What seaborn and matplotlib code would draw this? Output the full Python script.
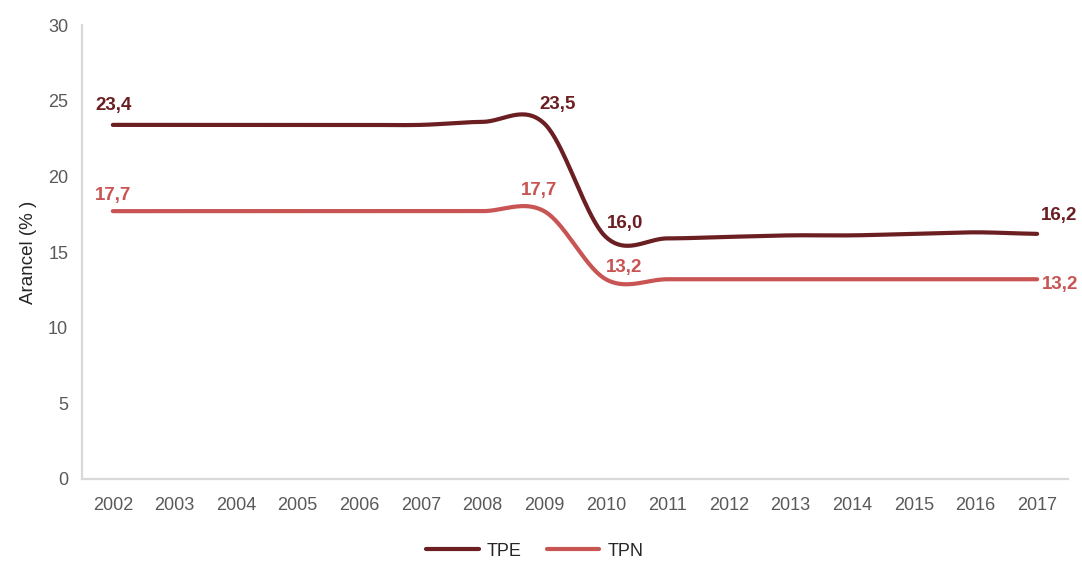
import numpy as np
import pandas as pd
import matplotlib
matplotlib.use("Agg")
import matplotlib.pyplot as plt
from matplotlib import font_manager
import seaborn as sns

years = [2002, 2003, 2004, 2005, 2006, 2007, 2008, 2009,
         2010, 2011, 2012, 2013, 2014, 2015, 2016, 2017]
tpe = [23.4, 23.4, 23.4, 23.4, 23.4, 23.4, 23.6, 23.5,
       16.0, 15.9, 16.0, 16.1, 16.1, 16.2, 16.3, 16.2]
tpn = [17.7, 17.7, 17.7, 17.7, 17.7, 17.7, 17.7, 17.7,
       13.2, 13.2, 13.2, 13.2, 13.2, 13.2, 13.2, 13.2]
series_names = ["TPE", "TPN"]
colors = {"TPE": "#6b1f22", "TPN": "#c85453"}
y_ticks = [0, 5, 10, 15, 20, 25, 30]
y_label = "Arancel (% )"

# labelled points: (series, year index, pixel offset)
labels = [("TPE", 0, (1, 19)), ("TPN", 0, (0, 16)),
          ("TPE", 7, (13, 19)), ("TPN", 7, (-5, 21)),
          ("TPE", 8, (19, 13)), ("TPN", 8, (18, 12)),
          ("TPE", 15, (22, 18)), ("TPN", 15, (23, -5))]

available = {f.name for f in font_manager.fontManager.ttflist}
base_font = "Liberation Sans Narrow" if "Liberation Sans Narrow" in available else "Liberation Sans"

sns.set_theme(style="white")
plt.rcParams["font.family"] = [base_font, "DejaVu Sans"]


def smooth(values, steps=40):
    """Catmull-Rom curve through the points (spreadsheet-style smoothed line)."""
    p = np.asarray(values, dtype=float)
    x = np.arange(len(p), dtype=float)
    pp = np.concatenate([[p[0]], p, [p[-1]]])
    xs, ys = [], []
    for i in range(len(p) - 1):
        p0, p1, p2, p3 = pp[i], pp[i + 1], pp[i + 2], pp[i + 3]
        t = np.linspace(0, 1, steps, endpoint=(i == len(p) - 2))
        b1 = p1 + (p2 - p0) / 6
        b2 = p2 - (p3 - p1) / 6
        y = ((1 - t) ** 3) * p1 + 3 * ((1 - t) ** 2) * t * b1 + 3 * (1 - t) * t ** 2 * b2 + t ** 3 * p2
        xs.append(x[i] + t)
        ys.append(y)
    return np.concatenate(xs), np.concatenate(ys)


frames = []
for name, vals in zip(series_names, [tpe, tpn]):
    sx, sy = smooth(vals)
    frames.append(pd.DataFrame({"x": sx, "value": sy, "serie": name}))
df = pd.concat(frames, ignore_index=True)

fig = plt.figure(figsize=(10.82, 5.62), dpi=100)
ax = fig.add_axes([0.0758, 0.1477, 0.9112, 0.8078])

sns.lineplot(data=df, x="x", y="value", hue="serie", palette=colors,
             estimator=None, sort=False, linewidth=3, ax=ax, legend=True)
for line in ax.get_lines():
    line.set_solid_capstyle("round")

ax.set_xlim(-0.5, len(years) - 0.5)
ax.set_ylim(0, 30)
ax.set_xticks(range(len(years)))
ax.set_xticklabels([str(y) for y in years])
ax.set_yticks(y_ticks)
ax.set_yticklabels([str(v) for v in y_ticks])
ax.tick_params(axis="both", length=0, labelsize=13, labelcolor="#595959")
ax.tick_params(axis="x", pad=13)
ax.tick_params(axis="y", pad=10)
ax.set_xlabel("")
ax.set_ylabel(y_label, fontsize=13.5, color="#262626", labelpad=8)

for side in ["top", "right"]:
    ax.spines[side].set_visible(False)
for side in ["left", "bottom"]:
    ax.spines[side].set_color("#d9d9d9")
    ax.spines[side].set_linewidth(1.6)
ax.grid(False)

data = {"TPE": tpe, "TPN": tpn}
for name, idx, (dx, dy) in labels:
    v = data[name][idx]
    ax.annotate(f"{v:.1f}".replace(".", ","), xy=(idx, v), xytext=(dx, dy),
                textcoords="offset pixels", ha="center", va="center",
                fontsize=13.5, fontweight="bold", color=colors[name])

handles, lbls = ax.get_legend_handles_labels()
ax.get_legend().remove()
fig.legend(handles, lbls, loc="center", bbox_to_anchor=(535 / 1082, 1 - 551 / 562),
           ncol=2, frameon=False, fontsize=13, handlelength=2.9, handletextpad=0.45,
           columnspacing=1.4, labelcolor="#262626")

fig.savefig("out.png", dpi=100)
